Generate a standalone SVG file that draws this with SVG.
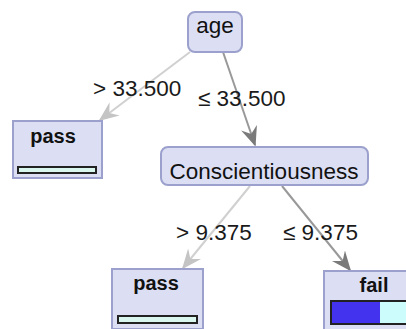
<svg xmlns="http://www.w3.org/2000/svg" width="406" height="329" viewBox="0 0 406 329">
<style>
.node{fill:#dcdff4;stroke:#9ba1cc;stroke-width:2}
.t{font-family:"Liberation Sans",Arial,sans-serif;font-size:22.5px;fill:#111;text-anchor:middle}
.b{font-family:"Liberation Sans",Arial,sans-serif;font-size:20px;font-weight:bold;fill:#111;text-anchor:middle}
.lbl{font-family:"Liberation Sans",Arial,sans-serif;font-size:22.5px;fill:#1a1a1a}
.light{stroke:#d0d0d0;stroke-width:2;fill:none}
.dark{stroke:#999;stroke-width:2;fill:none}
.bar{stroke:#222;stroke-width:2}
</style>
<defs>
<marker id="ah-light" viewBox="0 0 12 10" refX="11" refY="5" markerWidth="10" markerHeight="9" markerUnits="strokeWidth" orient="auto">
<path d="M0,0 L12,5 L0,10 L4,5 z" fill="#c4c4c4"/>
</marker>
<marker id="ah-dark" viewBox="0 0 12 10" refX="11" refY="5" markerWidth="10" markerHeight="9" markerUnits="strokeWidth" orient="auto">
<path d="M0,0 L12,5 L0,10 L4,5 z" fill="#7a7a7a"/>
</marker>
</defs>
<g id="connectors">
<line class="light" x1="190" y1="52" x2="100" y2="120" marker-end="url(#ah-light)"/>
<line class="dark" x1="223" y1="52" x2="255" y2="145" marker-end="url(#ah-dark)"/>
<line class="light" x1="250" y1="186" x2="183" y2="268" marker-end="url(#ah-light)"/>
<line class="dark" x1="282" y1="186" x2="350" y2="270" marker-end="url(#ah-dark)"/>
<text class="lbl" x="93" y="96">&gt; 33.500</text>
<text class="lbl" x="198" y="106">≤ 33.500</text>
<text class="lbl" x="176" y="240">&gt; 9.375</text>
<text class="lbl" x="283" y="240">≤ 9.375</text>
</g>
<g id="node-age">
<rect class="node" x="188" y="12" width="54" height="40" rx="7"/>
<text class="t" x="215" y="33">age</text>
</g>
<g id="node-pass1">
<rect class="node" x="13" y="121" width="89" height="57"/>
<text class="b" x="53" y="143">pass</text>
<rect class="bar" x="18" y="167" width="78" height="6" fill="#d8f5ee"/>
</g>
<g id="node-consc">
<rect class="node" x="161" y="147" width="207" height="38" rx="7"/>
<text class="t" x="264" y="179">Conscientiousness</text>
</g>
<g id="node-pass2">
<rect class="node" x="112" y="269" width="91" height="60"/>
<text class="b" x="156" y="290">pass</text>
<rect class="bar" x="118" y="316" width="79" height="7" fill="#d8f5ee"/>
</g>
<g id="node-fail">
<rect class="node" x="324" y="271" width="90" height="60"/>
<text class="b" x="374" y="292">fail</text>
<rect x="331" y="301" width="49" height="23" fill="#4433ee"/>
<rect x="380" y="301" width="30" height="23" fill="#ccfcfc"/>
<rect class="bar" x="331" y="301" width="80" height="23" fill="none"/>
</g>
</svg>
